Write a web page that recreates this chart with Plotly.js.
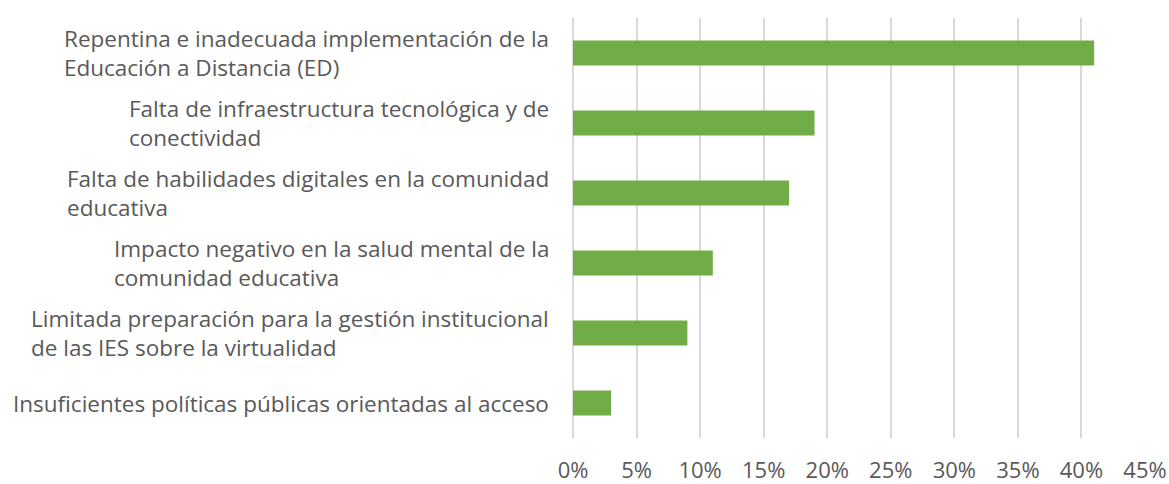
<!DOCTYPE html>
<html>
<head>
<meta charset="utf-8">
<script src="https://cdn.plot.ly/plotly-3.0.1.min.js"></script>
<style>html,body{margin:0;padding:0;background:#fff;}#chart{width:1169px;height:484px;}</style>
</head>
<body>
<div id="chart"></div>
<script>
const categories = [
  "Repentina e inadecuada implementación de la<br>Educación a Distancia (ED)",
  "Falta de infraestructura tecnológica y de<br>conectividad",
  "Falta de habilidades digitales en la comunidad<br>educativa",
  "Impacto negativo en la salud mental de la<br>comunidad educativa",
  "Limitada preparación para la gestión institucional<br>de las IES sobre la virtualidad",
  "Insuficientes políticas públicas orientadas al acceso"
];
const values = [0.41, 0.19, 0.17, 0.11, 0.09, 0.03];
const tickVals = [0, 0.05, 0.10, 0.15, 0.20, 0.25, 0.30, 0.35, 0.40, 0.45];
const tickText = ["0%", "5%", "10%", "15%", "20%", "25%", "30%", "35%", "40%", "45%"];

const FONT = "Open Sans, Noto Sans, sans-serif";
const TEXT_COLOR = "#595959";

const ids = categories.map((c, i) => i);

const annotations = categories.map((c, i) => ({
  x: 0, y: i, xref: 'x', yref: 'y',
  text: c, showarrow: false,
  xanchor: 'right', yanchor: 'middle', align: 'left',
  xshift: -22,
  font: {family: FONT, size: 22.5, color: TEXT_COLOR}
}));

const trace = {
  type: 'bar', orientation: 'h',
  x: values, y: ids,
  marker: {color: '#70AD47'},
  hoverinfo: 'none'
};

const layout = {
  width: 1169, height: 484,
  margin: {l: 573, r: 24, t: 18, b: 46},
  paper_bgcolor: '#fff', plot_bgcolor: '#fff',
  bargap: 0.64,
  showlegend: false,
  xaxis: {
    range: [0, 0.45], tickvals: tickVals, ticktext: tickText,
    showgrid: true, gridcolor: '#D9D9D9', gridwidth: 2,
    zeroline: true, zerolinecolor: '#D9D9D9', zerolinewidth: 2,
    showline: false,
    ticks: 'outside', ticklen: 13, tickcolor: 'rgba(0,0,0,0)',
    tickfont: {family: FONT, size: 22, color: TEXT_COLOR},
    fixedrange: true
  },
  yaxis: {
    range: [5.5, -0.5], showgrid: false, zeroline: false, showline: false,
    showticklabels: false, ticks: '', fixedrange: true
  },
  annotations: annotations
};

Plotly.newPlot('chart', [trace], layout, {displayModeBar: false, staticPlot: true});
</script>
</body>
</html>
